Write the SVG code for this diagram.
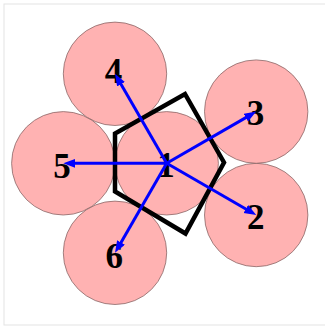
<svg xmlns="http://www.w3.org/2000/svg" width="325" height="329" viewBox="0 0 325 329">
  <style>
    .node circle { fill: #ffb2b2; stroke: #7a5a5a; stroke-width: 0.7; }
    .node text { font-family: "Liberation Serif", "DejaVu Serif", serif; font-weight: bold; font-size: 35px; text-anchor: middle; fill: #000; }
    .edge { stroke: #0000ff; stroke-width: 3; fill: none; marker-end: url(#arrow); }
  </style>
  <defs>
    <marker id="arrow" markerUnits="userSpaceOnUse" markerWidth="13" markerHeight="10" refX="4" refY="4.5" orient="auto">
      <path d="M0,0 L12,4.5 L0,9 z" fill="#0000ff"/>
    </marker>
  </defs>
  <rect x="4" y="4" width="330" height="321" fill="#fff" stroke="#e3e3e3" stroke-width="1"/>
  <g id="nodes">
    <g id="node1" class="node"><circle cx="166.7" cy="163.3" r="51.7"/><text x="166" y="176.7">1</text></g>
    <g id="node2" class="node"><circle cx="256.2" cy="215" r="51.7"/><text x="255.8" y="229">2</text></g>
    <g id="node3" class="node"><circle cx="256.2" cy="111.6" r="51.7"/><text x="255.5" y="125">3</text></g>
    <g id="node4" class="node"><circle cx="115" cy="73.8" r="51.7"/><text x="113.4" y="82.5">4</text></g>
    <g id="node5" class="node"><circle cx="63.3" cy="163.3" r="51.7"/><text x="62" y="178">5</text></g>
    <g id="node6" class="node"><circle cx="115" cy="252.8" r="51.7"/><text x="114.3" y="267.7">6</text></g>
  </g>
  <polygon id="pentagon" points="185,94 224,162.5 185.5,233.5 115,191.5 115,133.5" fill="none" stroke="#000" stroke-width="4.5" stroke-linejoin="miter"/>
  <g id="connectors">
    <line class="edge" x1="166.7" y1="163.3" x2="249.3" y2="211"/>
    <line class="edge" x1="166.7" y1="163.3" x2="249.3" y2="115.6"/>
    <line class="edge" x1="166.7" y1="163.3" x2="119" y2="80.7"/>
    <line class="edge" x1="166.7" y1="163.3" x2="71.3" y2="163.3"/>
    <line class="edge" x1="166.7" y1="163.3" x2="119" y2="245.9"/>
  </g>
</svg>
